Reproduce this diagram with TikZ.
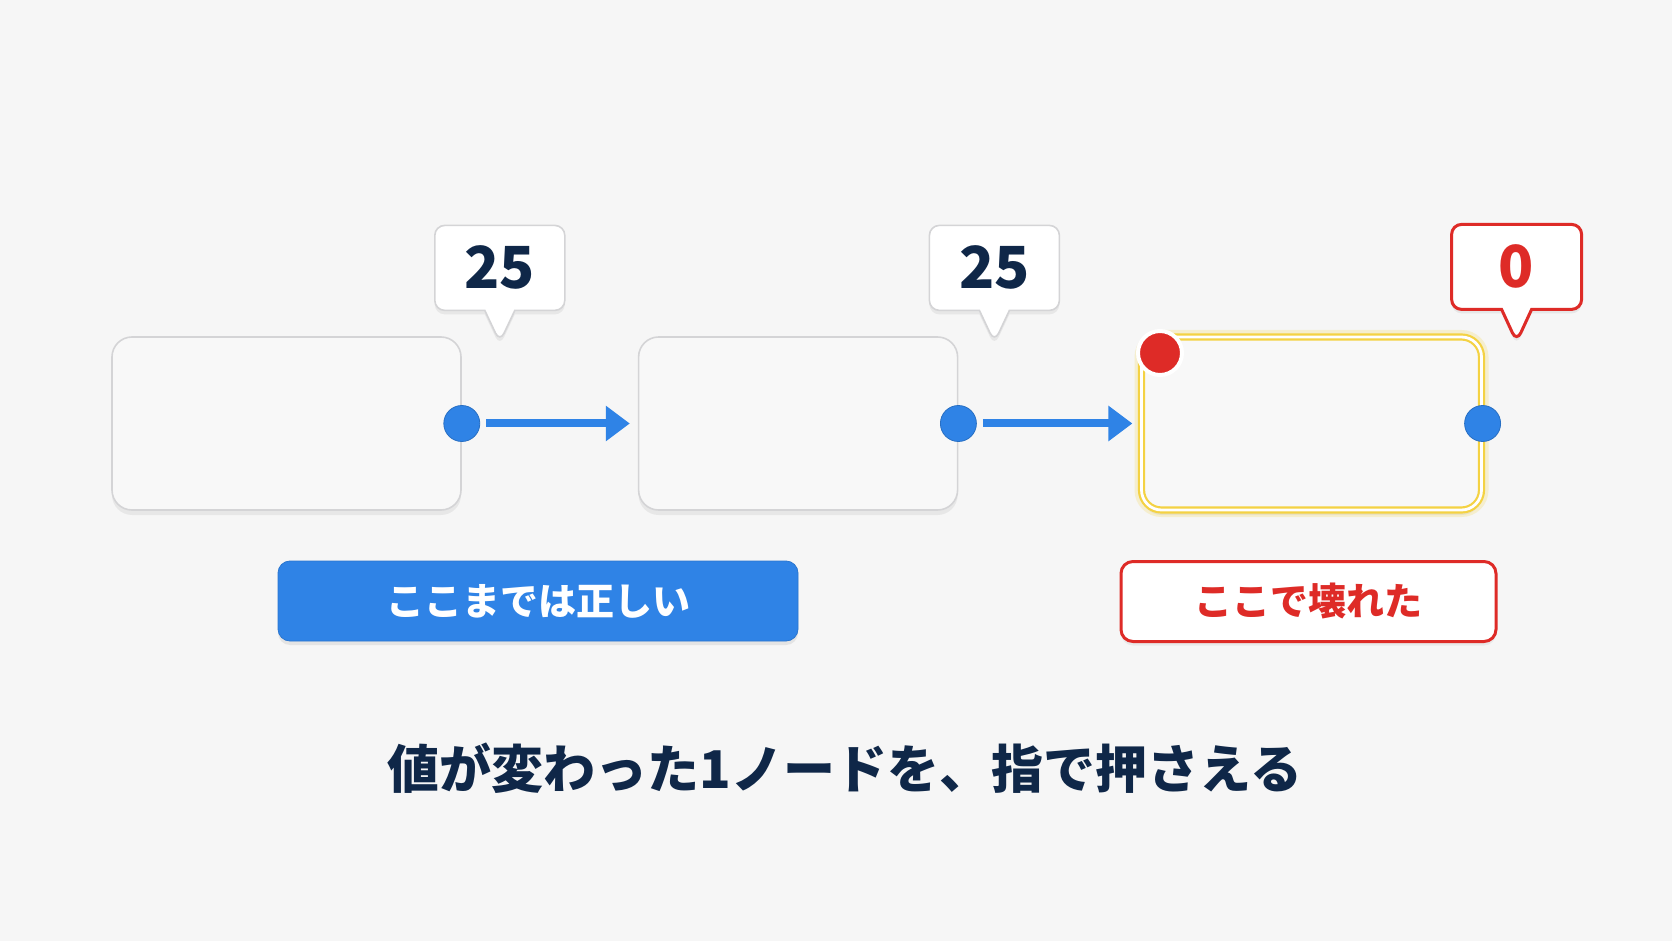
\documentclass[tikz,border=0pt]{standalone}
\usepackage{fontspec}
\setmainfont{Noto Sans CJK JP}
\usetikzlibrary{positioning,arrows.meta,shapes.callouts,shadows}
\definecolor{ink}{HTML}{0F2748}
\definecolor{paper}{HTML}{F6F6F6}
\definecolor{cardfill}{HTML}{F8F8F8}
\definecolor{cardrule}{HTML}{D4D4D6}
\definecolor{accent}{HTML}{2F83E6}
\definecolor{alert}{HTML}{DE2B27}
\definecolor{glow}{HTML}{F4D243}

\begin{document}
\begin{tikzpicture}[x=0.5pt, y=-0.5pt,
      card/.style={draw=cardrule, fill=cardfill, rounded corners=10pt, line width=0.8pt,
                   minimum height=86.5pt, inner sep=0pt,
                   drop shadow={opacity=0.12, shadow xshift=0pt, shadow yshift=-2.5pt}},
      port/.style={circle, fill=accent, draw=accent!85!black, line width=0.4pt,
                   minimum size=18pt, inner sep=0pt},
      darrow/.style={-{Triangle[length=12pt, width=17pt]}, line width=4pt, color=accent,
                     shorten <=3pt, shorten >=4pt},
      bubble/.style={rectangle callout, draw=cardrule, fill=white, rounded corners=5pt,
                     callout pointer width=15pt, callout pointer shorten=-3pt,
                     line width=0.8pt, minimum width=65pt, minimum height=42.5pt, inner sep=0pt,
                     font=\bfseries\fontsize{29}{29}\selectfont, text=ink,
                     drop shadow={opacity=0.12, shadow xshift=0pt, shadow yshift=-2pt}},
      tag/.style={rounded corners=6pt, minimum height=40pt, inner sep=0pt,
                  font=\bfseries\fontsize{19}{19}\selectfont},
    ]
      \fill[paper] (0,0) rectangle (1672,941);
      \useasboundingbox (0,0) rectangle (1672,941);

      \node[card, minimum width=174.5pt] (b1) at (286.5,423.5) {};
      \node[card, minimum width=159.5pt, right=88pt of b1] (b2) {};
      \node[card, minimum width=170pt, right=91pt of b2,
            draw=glow, line width=1.1pt, double=white, double distance=1.4pt,
            preaction={draw=glow, line width=7pt, opacity=0.22}] (b3) {};

      \node[port] (p1) at (b1.east) {};
      \node[port] (p2) at (b2.east) {};
      \node[port] (p3) at (b3.east) {};
      \node[circle, fill=alert, draw=white, line width=2pt, minimum size=22pt, inner sep=0pt]
            (alarm) at (1160,353) {};

      \draw[darrow] (p1) -- (b2);
      \draw[darrow] (p2) -- (b3);

      \coordinate[right=19pt of b1.north east] (tip1);
      \coordinate[right=18pt of b2.north east] (tip2);
      \coordinate[right=17pt of b3.north east] (tip3);
      \node[bubble, above=12.5pt of tip1, callout absolute pointer=(tip1)] (v1) {25};
      \node[bubble, above=12.5pt of tip2, callout absolute pointer=(tip2)] (v2) {25};
      \node[bubble, above=12.5pt of tip3, callout absolute pointer=(tip3),
            draw=alert, line width=1.5pt, text=alert] (v3) {0};

      \node[tag, fill=accent, draw=accent!90!black, text=white, minimum width=260pt,
            drop shadow={opacity=0.15, shadow xshift=0pt, shadow yshift=-2pt}]
            (ok) at (538,601) {ここまでは正しい};
      \node[tag, fill=white, draw=alert, line width=1.5pt, text=alert, minimum width=187.5pt,
            drop shadow={opacity=0.1, shadow xshift=0pt, shadow yshift=-2pt}]
            (broke) at (1308.5,601.5) {ここで壊れた};

      \node[font=\bfseries\fontsize{26}{26}\selectfont, text=ink] (caption) at (845,768)
            {値が変わった1ノードを、指で押さえる};
    \end{tikzpicture}
\end{document}
